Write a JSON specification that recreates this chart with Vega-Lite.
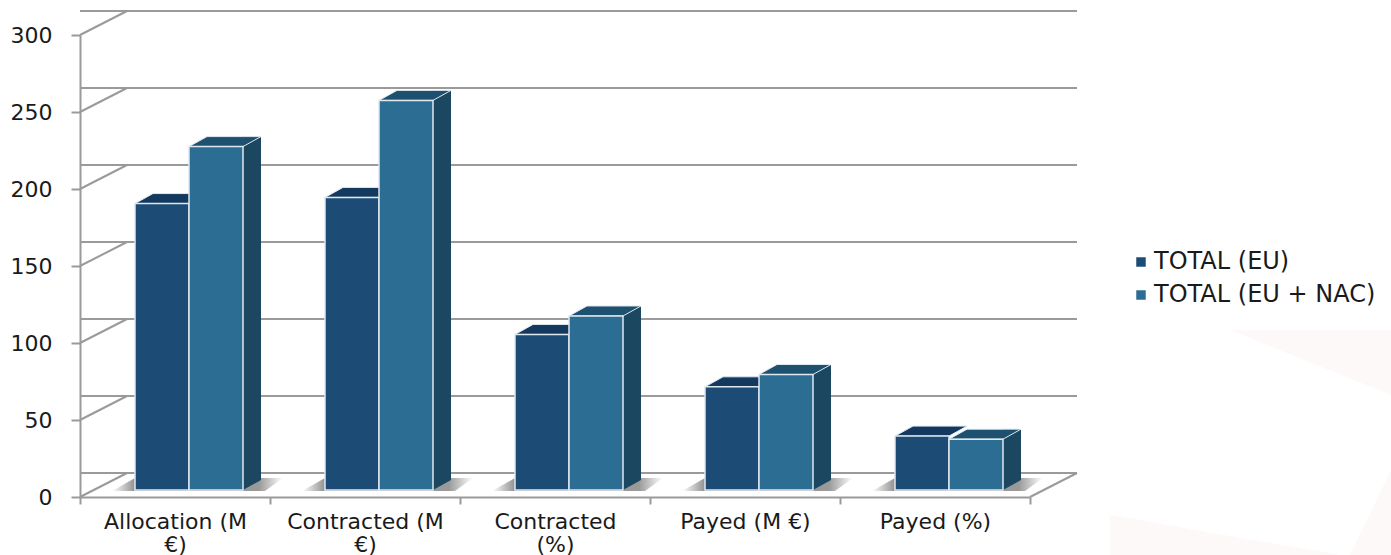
{
"$schema":"https://vega.github.io/schema/vega-lite/v6.json",
"width":950,"height":462,
"autosize":{"type":"none"},
"padding":{"left":80,"top":35,"right":361,"bottom":58},
"background":"white",
"config":{"view":{"stroke":null},"font":"DejaVu Sans"},
"datasets":{
"bars":[
{"category":"Allocation (M €)","series":"TOTAL (EU)","value":186},
{"category":"Allocation (M €)","series":"TOTAL (EU + NAC)","value":223},
{"category":"Contracted (M €)","series":"TOTAL (EU)","value":190},
{"category":"Contracted (M €)","series":"TOTAL (EU + NAC)","value":253},
{"category":"Contracted (%)","series":"TOTAL (EU)","value":101},
{"category":"Contracted (%)","series":"TOTAL (EU + NAC)","value":113},
{"category":"Payed (M €)","series":"TOTAL (EU)","value":67},
{"category":"Payed (M €)","series":"TOTAL (EU + NAC)","value":75},
{"category":"Payed (%)","series":"TOTAL (EU)","value":35},
{"category":"Payed (%)","series":"TOTAL (EU + NAC)","value":33}],
"ticks":[{"value":0},{"value":50},{"value":100},{"value":150},{"value":200},{"value":250},{"value":300}],
"cats":[{"category":"Allocation (M €)","value":0},{"category":"Contracted (M €)","value":0},{"category":"Contracted (%)","value":0},{"category":"Payed (M €)","value":0},{"category":"Payed (%)","value":0}]
},
"layer":[
{"data":{"values":[{"category":"Payed (%)","value":0}]},"mark":{"type":"point","shape":"M175 18 L405 58 L175 58 Z M456 -27 L415 58 L456 58 Z M295 -167 L456 -102 L456 -167 Z","size":4,"filled":true,"fill":"#fef9f9","strokeWidth":0,"opacity":1},
 "encoding":{"x":{"field":"category","type":"nominal"},"y":{"field":"value","type":"quantitative"}}},
{"data":{"name":"ticks"},"mark":{"type":"rule","color":"#9a9a9a","strokeWidth":2,"xOffset":47,"yOffset":-24},
 "encoding":{"y":{"field":"value","type":"quantitative","scale":{"domain":[0,300],"nice":false},
  "axis":{"values":[0,50,100,150,200,250,300],"title":null,"grid":false,"domainColor":"#9a9a9a","domainWidth":2,"tickColor":"#9a9a9a","tickWidth":2,"tickSize":9,"labelFontSize":22,"labelColor":"#1a1a1a","labelPadding":19,"labelFont":"DejaVu Sans"}}}},
{"data":{"name":"ticks"},"mark":{"type":"point","shape":"M-95 0 L-48 -24","size":4,"filled":false,"stroke":"#9a9a9a","strokeWidth":2,"opacity":1},
 "encoding":{"x":{"datum":"Allocation (M €)","type":"nominal"},"y":{"field":"value","type":"quantitative"}}},
{"data":{"values":[{"category":"Payed (%)","value":0}]},"mark":{"type":"point","shape":"M95 0 L142 -24","size":4,"filled":false,"stroke":"#9a9a9a","strokeWidth":2,"opacity":1},
 "encoding":{"x":{"field":"category","type":"nominal"},"y":{"field":"value","type":"quantitative"}}},
{"data":{"name":"cats"},"mark":{"type":"point","shape":"M-63 -6 L-40 -19 L108 -19 L90 -6 Z","size":4,"filled":true,"opacity":1,"strokeWidth":0,
  "fill":{"gradient":"linear","x1":0,"x2":1,"y1":0,"y2":0,"stops":[{"offset":0,"color":"#ffffff"},{"offset":0.14,"color":"#8c8c8c"},{"offset":0.86,"color":"#9a9a9a"},{"offset":1,"color":"#ffffff"}]}},
 "encoding":{"x":{"field":"category","type":"nominal","scale":{"domain":["Allocation (M €)","Contracted (M €)","Contracted (%)","Payed (M €)","Payed (%)"],"paddingInner":0,"paddingOuter":0},
  "axis":{"title":null,"labelAngle":0,"labelAlign":"center","tickBand":"extent","domainColor":"#9a9a9a","domainWidth":2,"tickColor":"#9a9a9a","tickWidth":2,"tickSize":7,"labelFontSize":22,"labelColor":"#1a1a1a","labelPadding":17,"labelLineHeight":23,"labelFont":"DejaVu Sans",
  "labelExpr":"datum.label=='Allocation (M €)'?['Allocation (M','€)']:datum.label=='Contracted (M €)'?['Contracted (M','€)']:datum.label=='Contracted (%)'?['Contracted','(%)']:datum.label"}},
  "y":{"field":"value","type":"quantitative"}}},
{"data":{"name":"bars"},"transform":[{"filter":"datum.series=='TOTAL (EU)'"}],
 "mark":{"type":"point","shape":"M-27 -7 L-9 -17 L45 -17 L27 -7 Z","size":4,"filled":true,"opacity":1,"fill":"#133A5E","stroke":"#dfe8ef","strokeWidth":1},
 "encoding":{"x":{"field":"category","type":"nominal"},"xOffset":{"field":"series","type":"nominal"},"y":{"field":"value","type":"quantitative"}}},
{"data":{"name":"bars"},"transform":[{"filter":"datum.series!='TOTAL (EU)'"}],
 "mark":{"type":"bar","width":18,"xOffset":77,"x2Offset":77,"yOffset":-17,"y2Offset":-17,"fill":"#1C4760"},
 "encoding":{"x":{"field":"category","type":"nominal"},"y":{"field":"value","type":"quantitative"},"y2":{"datum":0}}},
{"data":{"name":"bars"},"transform":[{"filter":"datum.series!='TOTAL (EU)'"}],
 "mark":{"type":"point","shape":"M-27 -7 L-9 -17 L45 -17 L27 -7 Z","size":4,"filled":true,"opacity":1,"fill":"#1E5070","stroke":"#dfe8ef","strokeWidth":1},
 "encoding":{"x":{"field":"category","type":"nominal"},"xOffset":{"field":"series","type":"nominal"},"y":{"field":"value","type":"quantitative"}}},
{"data":{"name":"bars"},"transform":[{"filter":"datum.series!='TOTAL (EU)'"}],
 "mark":{"type":"point","shape":"M27 -7 L45 -17 L27 -17 Z","size":4,"filled":true,"opacity":1,"fill":"#1C4760","strokeWidth":0},
 "encoding":{"x":{"field":"category","type":"nominal"},"xOffset":{"field":"series","type":"nominal"},"y":{"datum":0}}},
{"data":{"name":"bars"},
 "mark":{"type":"bar","yOffset":-7,"y2Offset":-7,"stroke":"#dfe8ef","strokeWidth":1.5},
 "encoding":{"x":{"field":"category","type":"nominal"},
  "xOffset":{"field":"series","type":"nominal","scale":{"domain":["TOTAL (EU)","TOTAL (EU + NAC)"],"range":[55,163],"paddingInner":0,"paddingOuter":0}},
  "y":{"field":"value","type":"quantitative"},"y2":{"datum":0},
  "color":{"field":"series","type":"nominal","scale":{"domain":["TOTAL (EU)","TOTAL (EU + NAC)"],"range":["#1C4B75","#2C6D93"]},
   "legend":{"orient":"none","legendX":1049,"legendY":215,"title":null,"symbolType":"square","symbolSize":90,"symbolStrokeWidth":0,"labelFontSize":24,"labelColor":"#1a1a1a","labelLimit":300,"labelOffset":1,"rowPadding":9,"labelFont":"DejaVu Sans"}}}}
]
}
